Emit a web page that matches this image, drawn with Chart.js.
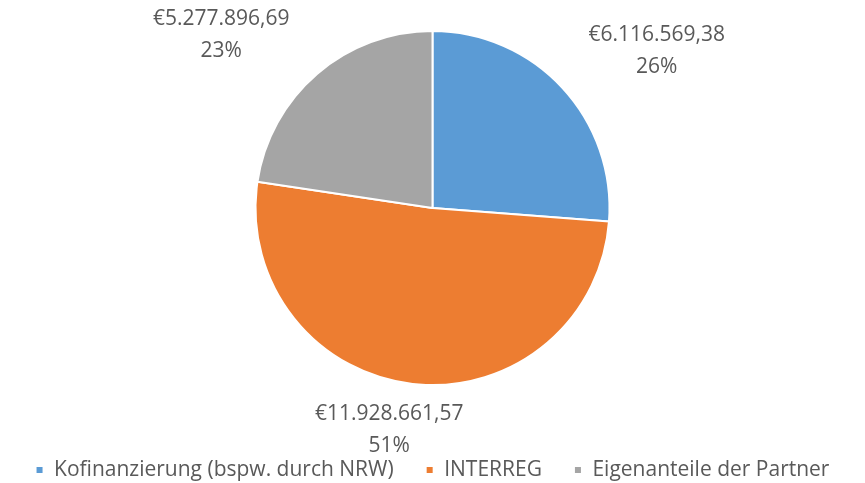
<!DOCTYPE html>
<html>
<head>
<meta charset="utf-8">
<script src="https://cdn.jsdelivr.net/npm/chart.js@4/dist/chart.umd.min.js"></script>
<style>
  html, body { margin: 0; padding: 0; background: #fff; }
  #wrap { width: 865px; height: 483px; }
</style>
</head>
<body>
<div id="wrap"><canvas id="finanzChart"></canvas></div>
<script>
const categories = ['Kofinanzierung (bspw. durch NRW)', 'INTERREG', 'Eigenanteile der Partner'];
const amounts = [6116569.38, 11928661.57, 5277896.69];
const amountLabels = ['€6.116.569,38', '€11.928.661,57', '€5.277.896,69'];
const percentLabels = ['26%', '51%', '23%'];
const colors = ['#5B9BD5', '#ED7D31', '#A5A5A5'];

const textColor = '#595959';
const fontFamily = '"Open Sans", sans-serif';
const fontSize = 21;

// Beschriftungen außerhalb der Tortenstücke (Betrag + Prozent)
const outsideLabels = {
    id: 'outsideLabels',
    afterDatasetsDraw(chart) {
        const ctx = chart.ctx;
        const meta = chart.getDatasetMeta(0);
        const lineH = 32;
        ctx.save();
        ctx.font = fontSize + 'px ' + fontFamily;
        ctx.fillStyle = textColor;
        ctx.textAlign = 'center';
        ctx.textBaseline = 'middle';
        meta.data.forEach((arc, i) => {
            const p = arc.getProps(['x', 'y', 'startAngle', 'endAngle', 'outerRadius']);
            const mid = (p.startAngle + p.endAngle) / 2;
            const cos = Math.cos(mid), sin = Math.sin(mid);
            const r = p.outerRadius + 30;
            const ax = p.x + cos * r;
            const ay = p.y + sin * r;
            const w = Math.max(ctx.measureText(amountLabels[i]).width, ctx.measureText(percentLabels[i]).width);
            let cx;
            if (cos > 0.3) cx = ax + 4 + w / 2;
            else if (cos < -0.3) cx = ax - 8 - w / 2;
            else cx = ax - 20;
            const y1 = sin < 0 ? ay - lineH : ay;
            ctx.fillText(amountLabels[i], cx, y1);
            ctx.fillText(percentLabels[i], cx, y1 + lineH);
        });
        ctx.restore();
    }
};

const ctx = document.getElementById('finanzChart').getContext('2d');
new Chart(ctx, {
    type: 'pie',
    data: {
        labels: categories,
        datasets: [{
            data: amounts,
            backgroundColor: colors,
            borderColor: '#ffffff',
            borderWidth: 2,
            radius: 177
        }]
    },
    options: {
        responsive: true,
        maintainAspectRatio: false,
        animation: false,
        layout: { padding: { top: 0, bottom: -7.6, left: 0, right: 0 } },
        plugins: {
            tooltip: { enabled: false },
            legend: {
                position: 'bottom',
                // leerer Titel schafft Abstand zwischen Torte und Legende
                title: { display: true, text: ' ', font: { size: 8 }, padding: 1 },
                labels: {
                    boxWidth: 8,
                    boxHeight: 8,
                    padding: 32,
                    color: textColor,
                    font: { family: fontFamily, size: fontSize }
                }
            }
        }
    },
    plugins: [outsideLabels]
});
</script>
</body>
</html>
